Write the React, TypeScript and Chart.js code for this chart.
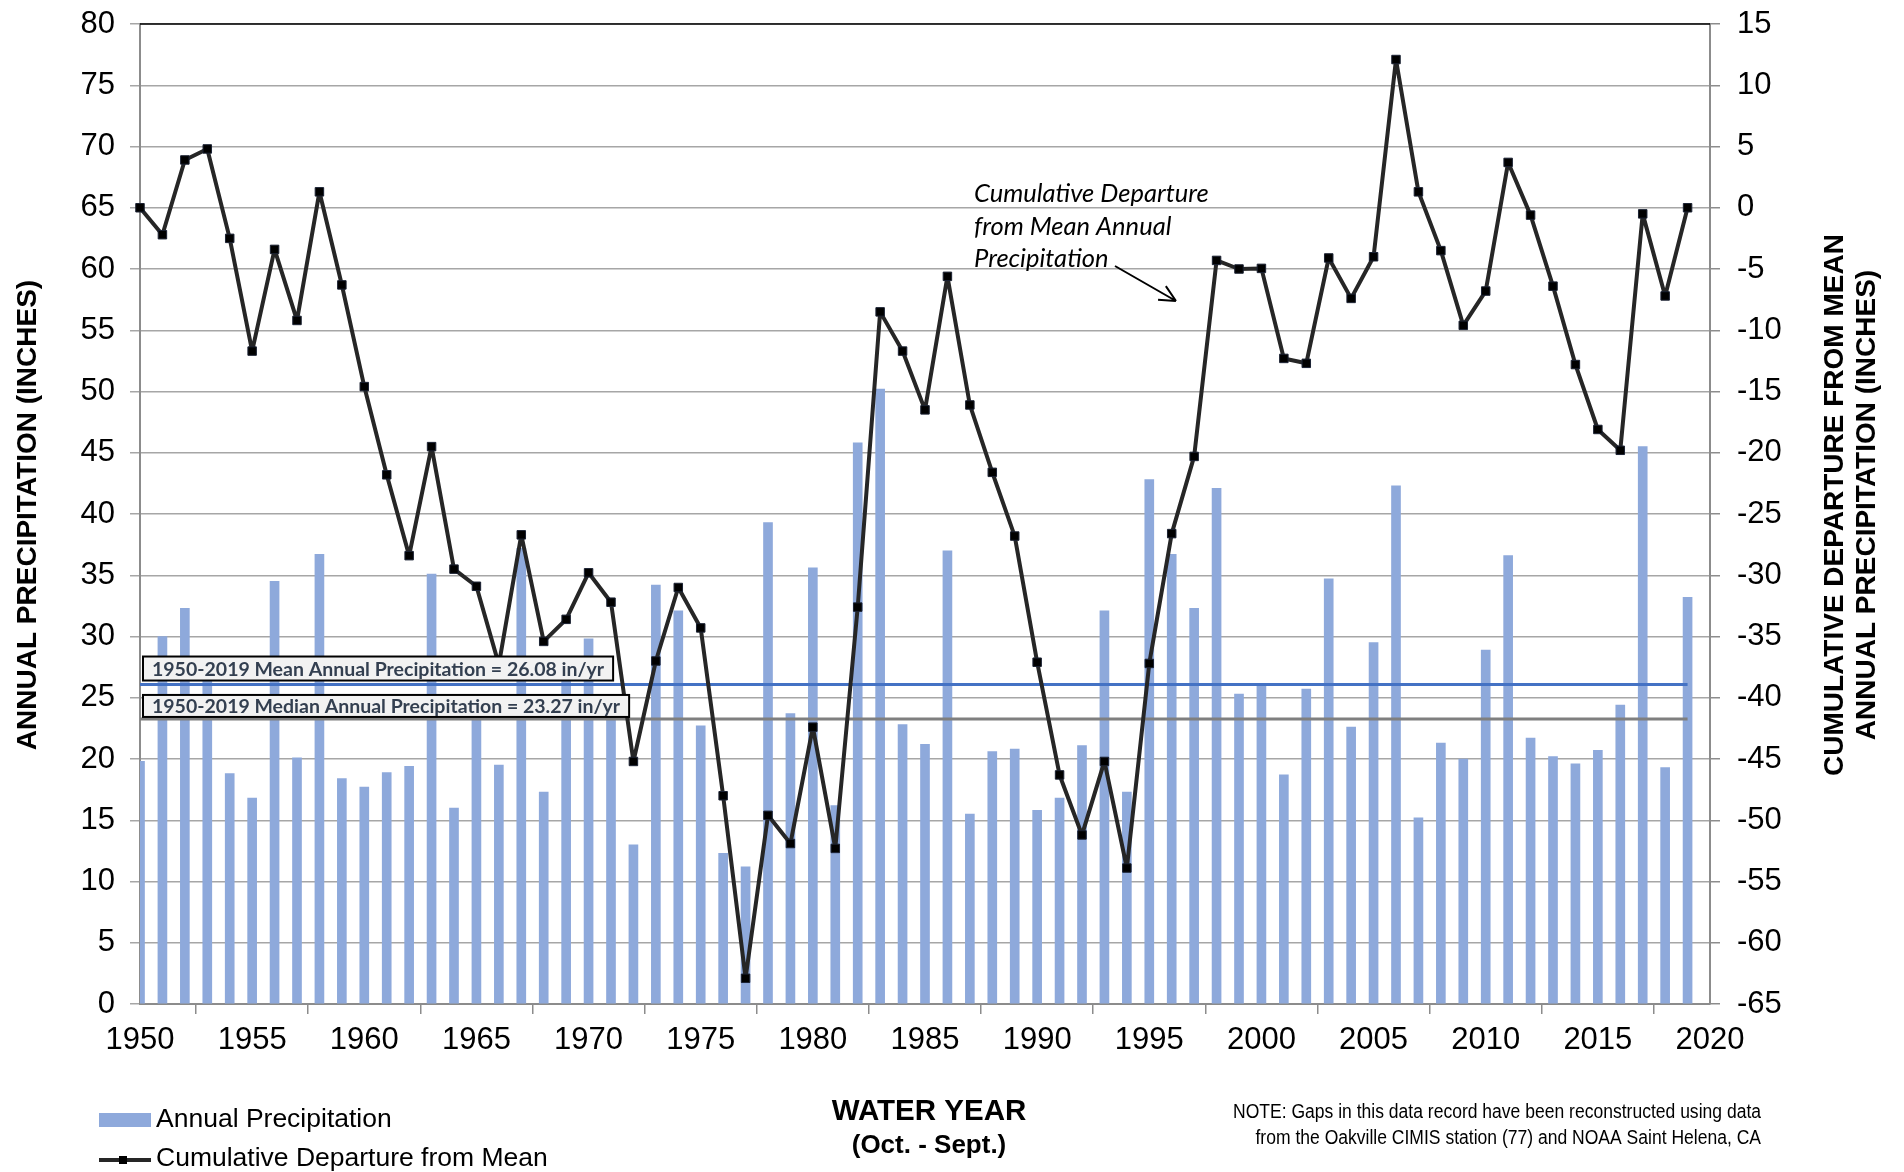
import { useEffect, useRef } from 'react';
import { Chart, registerables } from 'chart.js';

Chart.register(...registerables);

const years = [
  1950, 1951, 1952, 1953, 1954, 1955, 1956, 1957, 1958, 1959,
  1960, 1961, 1962, 1963, 1964, 1965, 1966, 1967, 1968, 1969,
  1970, 1971, 1972, 1973, 1974, 1975, 1976, 1977, 1978, 1979,
  1980, 1981, 1982, 1983, 1984, 1985, 1986, 1987, 1988, 1989,
  1990, 1991, 1992, 1993, 1994, 1995, 1996, 1997, 1998, 1999,
  2000, 2001, 2002, 2003, 2004, 2005, 2006, 2007, 2008, 2009,
  2010, 2011, 2012, 2013, 2014, 2015, 2016, 2017, 2018, 2019,
];

const annualPrecip = [
  19.8, 30.0, 32.3, 27.0, 18.8, 16.8, 34.5, 20.1, 36.7, 18.4,
  17.7, 18.9, 19.4, 35.1, 16.0, 24.3, 19.5, 37.2, 17.3, 27.6,
  29.8, 23.8, 13.0, 34.2, 32.1, 22.7, 12.3, 11.2, 39.3, 23.7,
  35.6, 16.2, 45.8, 50.2, 22.8, 21.2, 37.0, 15.5, 20.6, 20.8,
  15.8, 16.8, 21.1, 32.1, 17.3, 42.8, 36.7, 32.3, 42.1, 25.3,
  26.1, 18.7, 25.7, 34.7, 22.6, 29.5, 42.3, 15.2, 21.3, 20.0,
  28.9, 36.6, 21.7, 20.2, 19.6, 20.7, 24.4, 45.5, 19.3, 33.2,
];

const cumulativeDeparture = [
  0.0, -2.2, 3.9, 4.8, -2.5, -11.7, -3.4, -9.2, 1.3, -6.3,
  -14.6, -21.8, -28.4, -19.5, -29.5, -30.9, -37.3, -26.7, -35.4, -33.6,
  -29.8, -32.2, -45.2, -37.0, -31.0, -34.3, -48.0, -62.9, -49.6, -51.9,
  -42.4, -52.3, -32.6, -8.5, -11.7, -16.5, -5.6, -16.1, -21.6, -26.8,
  -37.1, -46.3, -51.2, -45.2, -53.9, -37.2, -26.6, -20.3, -4.3, -5.0,
  -4.95, -12.3, -12.7, -4.1, -7.4, -4.0, 12.1, 1.3, -3.5, -9.6,
  -6.8, 3.7, -0.6, -6.4, -12.8, -18.1, -19.8, -0.5, -7.2, 0.0,
];

const meanPrecip = 26.08;
const medianPrecip = 23.27;
const statPeriod = [1950, 2019];

const xRange = [1950, 2020];
const leftRange = [0, 80];
const rightRange = [-65, 15];
const tickStep = 5;

const meanLabel = '1950-2019 Mean Annual Precipitation = 26.08 in/yr';
const medianLabel = '1950-2019 Median Annual Precipitation = 23.27 in/yr';
const annotationLines = ['Cumulative Departure', 'from Mean Annual', 'Precipitation'];
const leftTitle = 'ANNUAL PRECIPITATION (INCHES)';
const rightTitle = ['CUMULATIVE DEPARTURE FROM MEAN', 'ANNUAL PRECIPITATION (INCHES)'];
const xTitle = 'WATER YEAR';
const xSubTitle = '(Oct. - Sept.)';
const legendBar = 'Annual Precipitation';
const legendLine = 'Cumulative Departure from Mean';
const noteLines = [
  'NOTE: Gaps in this data record have been reconstructed using data',
  'from the Oakville CIMIS station (77) and NOAA Saint Helena, CA',
];

const SANS = "'Liberation Sans', Arial, sans-serif";
const BAR_COLOR = '#8EA9DB';
const LINE_COLOR = '#262626';
const GRID = '#a6a6a6';
const AXIS = '#8c8c8c';

const noPad = (s: any) => {
  s.paddingTop = 0;
  s.paddingBottom = 0;
  s.paddingLeft = 0;
  s.paddingRight = 0;
};

const overlayPlugin = {
  id: 'overlay',
  afterDraw(chart: any) {
    const ctx: CanvasRenderingContext2D = chart.ctx;
    const { left, right, top } = chart.chartArea;
    const yS = chart.scales.y;
    ctx.save();

    // top border of the plot
    ctx.strokeStyle = '#000';
    ctx.lineWidth = 1.5;
    ctx.beginPath();
    ctx.moveTo(left, top);
    ctx.lineTo(right, top);
    ctx.stroke();

    // mean / median label boxes
    const drawBox = (text: string, val: number, gap: number, h: number) => {
      ctx.font = "bold 19.5px Lato, 'Open Sans', sans-serif";
      const w = ctx.measureText(text).width;
      const yb = yS.getPixelForValue(val) - gap;
      const x0 = left + 3;
      ctx.fillStyle = '#f2f2f2';
      ctx.fillRect(x0, yb - h, w + 18, h);
      ctx.strokeStyle = '#000';
      ctx.lineWidth = 2;
      ctx.strokeRect(x0, yb - h, w + 18, h);
      ctx.fillStyle = '#333F50';
      ctx.textAlign = 'left';
      ctx.textBaseline = 'middle';
      ctx.fillText(text, x0 + 9, yb - h / 2 + 1);
    };
    drawBox(meanLabel, meanPrecip, 4, 24);
    drawBox(medianLabel, medianPrecip, 2, 22);

    // annotation text
    ctx.fillStyle = '#000';
    ctx.font = "italic 25.5px Lato, 'Open Sans', sans-serif";
    ctx.textAlign = 'left';
    ctx.textBaseline = 'middle';
    annotationLines.forEach((t, i) => ctx.fillText(t, 974, 194 + i * 32.5));

    // arrow
    const ax0 = 1115, ay0 = 266, ax1 = 1176, ay1 = 301;
    ctx.strokeStyle = '#000';
    ctx.lineWidth = 2;
    ctx.beginPath();
    ctx.moveTo(ax0, ay0);
    ctx.lineTo(ax1, ay1);
    const ang = Math.atan2(ay1 - ay0, ax1 - ax0);
    const hl = 18;
    ctx.moveTo(ax1, ay1);
    ctx.lineTo(ax1 - hl * Math.cos(ang - 0.45), ay1 - hl * Math.sin(ang - 0.45));
    ctx.moveTo(ax1, ay1);
    ctx.lineTo(ax1 - hl * Math.cos(ang + 0.45), ay1 - hl * Math.sin(ang + 0.45));
    ctx.stroke();

    // axis titles
    ctx.fillStyle = '#000';
    ctx.font = `bold 28px ${SANS}`;
    ctx.textAlign = 'center';
    ctx.textBaseline = 'middle';
    ctx.save();
    ctx.translate(28, 515);
    ctx.rotate(-Math.PI / 2);
    ctx.fillText(leftTitle, 0, 0);
    ctx.restore();

    ctx.save();
    ctx.translate(1851, 505);
    ctx.rotate(-Math.PI / 2);
    ctx.fillText(rightTitle[0], 0, -16);
    ctx.fillText(rightTitle[1], 0, 16);
    ctx.restore();

    ctx.font = `bold 29.5px ${SANS}`;
    ctx.fillText(xTitle, 929, 1112);
    ctx.font = `bold 26px ${SANS}`;
    ctx.fillText(xSubTitle, 929, 1146);

    // legend
    ctx.fillStyle = BAR_COLOR;
    ctx.fillRect(99, 1113, 52, 14);
    ctx.strokeStyle = LINE_COLOR;
    ctx.lineWidth = 4;
    ctx.beginPath();
    ctx.moveTo(99, 1160);
    ctx.lineTo(151, 1160);
    ctx.stroke();
    ctx.fillStyle = '#000';
    ctx.fillRect(119, 1156, 8, 8);
    ctx.font = `26.5px ${SANS}`;
    ctx.textAlign = 'left';
    ctx.fillText(legendBar, 156, 1120);
    ctx.fillText(legendLine, 156, 1159);

    // note (condensed)
    ctx.font = `20px 'Liberation Sans Narrow', ${SANS}`;
    const w0 = ctx.measureText(noteLines[0]).width;
    const sx = 528 / w0;
    ctx.textAlign = 'right';
    noteLines.forEach((t, i) => {
      ctx.save();
      ctx.translate(1761, 1112 + i * 26);
      ctx.scale(sx, 1);
      ctx.fillText(t, 0, 0);
      ctx.restore();
    });

    ctx.restore();
  },
};

export default function App() {
  const ref = useRef<HTMLCanvasElement | null>(null);

  useEffect(() => {
    document.body.style.margin = '0';
    if (!ref.current) return;
    const chart = new Chart(ref.current, {
      type: 'bar',
      data: {
        datasets: [
          {
            type: 'line',
            label: legendLine,
            data: years.map((x, i) => ({ x, y: cumulativeDeparture[i] })),
            yAxisID: 'y2',
            borderColor: LINE_COLOR,
            borderWidth: 4,
            borderJoinStyle: 'round',
            pointStyle: 'rect',
            pointRadius: 6,
            pointBackgroundColor: '#000',
            pointBorderColor: '#1b2233',
            pointBorderWidth: 1,
            tension: 0,
            clip: false,
            order: 1,
          } as any,
          {
            type: 'line',
            label: 'Mean',
            data: statPeriod.map((x) => ({ x, y: meanPrecip })),
            yAxisID: 'y',
            borderColor: '#4472C4',
            borderWidth: 3,
            pointRadius: 0,
            order: 2,
          } as any,
          {
            type: 'line',
            label: 'Median',
            data: statPeriod.map((x) => ({ x, y: medianPrecip })),
            yAxisID: 'y',
            borderColor: '#7f7f7f',
            borderWidth: 3,
            pointRadius: 0,
            order: 2,
          } as any,
          {
            type: 'bar',
            label: legendBar,
            data: years.map((x, i) => ({ x, y: annualPrecip[i] })),
            yAxisID: 'y',
            backgroundColor: BAR_COLOR,
            barThickness: 9,
            order: 3,
          } as any,
        ],
      },
      options: {
        responsive: false,
        animation: false,
        layout: { padding: { top: 24, left: 0, right: 0, bottom: 0 } },
        plugins: { legend: { display: false }, tooltip: { enabled: false } },
        scales: {
          x: {
            type: 'linear',
            min: xRange[0],
            max: xRange[1],
            offset: false,
            ticks: {
              stepSize: tickStep,
              color: '#000',
              font: { family: SANS, size: 31 },
              padding: 8,
              maxRotation: 0,
              callback: (v: any) => String(v),
            },
            grid: { drawOnChartArea: false, tickLength: 10, color: AXIS, lineWidth: 1.5 },
            border: { color: AXIS, width: 2 },
            afterFit: (s: any) => { s.height = 168; noPad(s); },
          },
          y: {
            position: 'left',
            min: leftRange[0],
            max: leftRange[1],
            ticks: {
              stepSize: tickStep,
              color: '#000',
              font: { family: SANS, size: 31 },
              padding: 15,
            },
            grid: { color: GRID, lineWidth: 1.5, tickLength: 10 },
            border: { color: AXIS, width: 2 },
            afterFit: (s: any) => { s.width = 140; noPad(s); },
          },
          y2: {
            position: 'right',
            min: rightRange[0],
            max: rightRange[1],
            ticks: {
              stepSize: tickStep,
              color: '#000',
              font: { family: SANS, size: 31 },
              padding: 17,
            },
            grid: { drawOnChartArea: false, color: AXIS, lineWidth: 1.5, tickLength: 10 },
            border: { color: AXIS, width: 2 },
            afterFit: (s: any) => { s.width = 194; noPad(s); },
          },
        },
      },
      plugins: [overlayPlugin],
    } as any);
    return () => chart.destroy();
  }, []);

  return (
    <div style={{ position: 'absolute', left: 0, top: 0, width: 1904, height: 1172, background: '#fff' }}>
      <canvas ref={ref} width={1904} height={1172} />
    </div>
  );
}
